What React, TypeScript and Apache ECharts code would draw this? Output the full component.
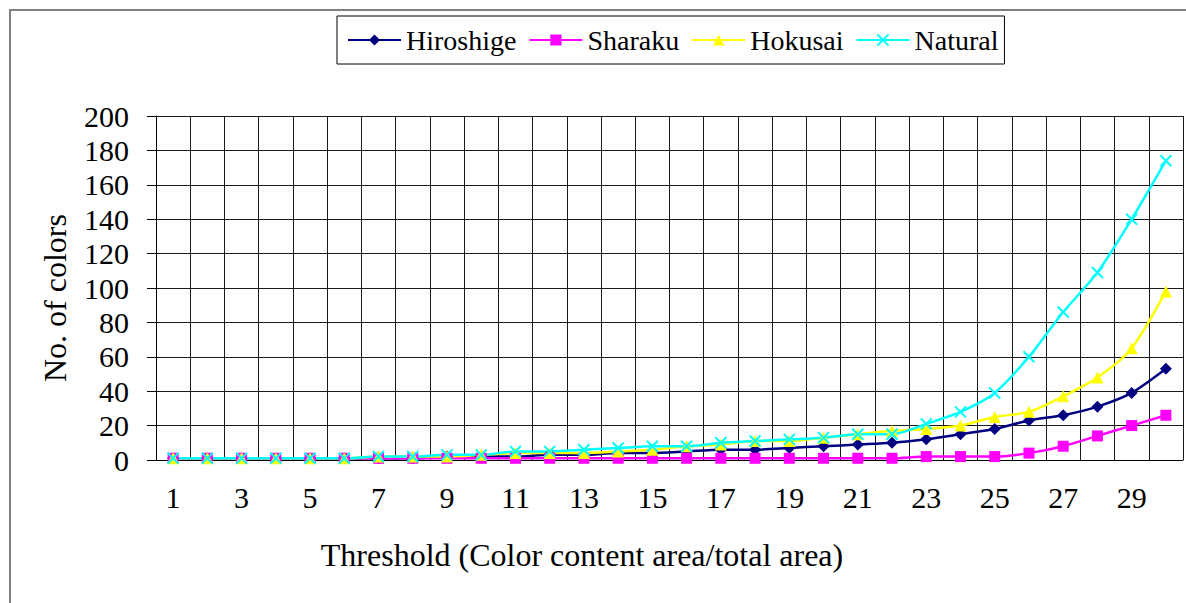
import React, { useEffect, useRef } from "react";
import * as echarts from "echarts";

const categories = Array.from({ length: 30 }, (_, i) => String(i + 1));
const hiroshige = [1, 1, 1, 1, 1, 1, 1, 1, 2, 2, 2, 3, 3, 4, 4, 5, 6, 6, 7, 8, 9, 10, 12, 15, 18, 23, 26, 31, 39, 53];
const sharaku = [1, 1, 1, 1, 1, 1, 1, 1, 1, 1, 1, 1, 1, 1, 1, 1, 1, 1, 1, 1, 1, 1, 2, 2, 2, 4, 8, 14, 20, 26];
const hokusai = [1, 1, 1, 1, 1, 1, 2, 2, 2, 3, 4, 4, 4, 5, 6, 8, 9, 11, 11, 13, 15, 17, 18, 20, 25, 28, 37, 48, 65, 98];
const natural = [1, 1, 1, 1, 1, 1, 2, 2, 3, 3, 5, 5, 6, 7, 8, 8, 10, 11, 12, 13, 15, 15, 21, 28, 39, 60, 86, 109, 140, 174];
const seriesNames = ["Hiroshige", "Sharaku", "Hokusai", "Natural"];
const yTitle = "No. of colors";
const xTitle = "Threshold (Color content area/total area)";

const FONT = "Liberation Serif";
const CROSS = "path://M0,0L10,10M10,0L0,10";

export default function App() {
  const ref = useRef<HTMLDivElement>(null);
  useEffect(() => {
    document.body.style.margin = "0";
    const chart = echarts.init(ref.current!, null, { renderer: "svg" });
    const mk = (name: string, data: number[], color: string, symbol: string, size: number, extra: any = {}) => ({
      name,
      type: "line",
      data,
      smooth: 0.25,
      symbol,
      symbolSize: size,
      showSymbol: true,
      lineStyle: { color, width: 2.5 },
      itemStyle: { color, ...extra },
      emphasis: { disabled: true },
    });
    chart.setOption({
      animation: false,
      backgroundColor: "#ffffff",
      textStyle: { fontFamily: FONT },
      grid: { left: 156, top: 116, right: 3, bottom: 143, containLabel: false },
      legend: {
        data: seriesNames,
        left: 337,
        top: 16,
        orient: "horizontal",
        padding: [10, 6, 10, 10],
        borderColor: "#000",
        borderWidth: 1,
        itemWidth: 53,
        itemHeight: 14,
        itemGap: 12,
        textStyle: { fontFamily: FONT, fontSize: 28, color: "#000" },
      },
      xAxis: {
        type: "category",
        data: categories,
        boundaryGap: true,
        axisLine: { show: true, lineStyle: { color: "#000", width: 1 } },
        axisTick: { show: false },
        axisLabel: { interval: 1, margin: 22, fontFamily: FONT, fontSize: 30, color: "#000" },
        splitLine: { show: true, interval: 0, lineStyle: { color: "#1a1a1a", width: 1 } },
      },
      yAxis: {
        type: "value",
        min: 0,
        max: 200,
        interval: 20,
        axisLine: { show: true, lineStyle: { color: "#000", width: 1 } },
        axisTick: { show: true, length: 9, lineStyle: { color: "#000" } },
        axisLabel: { margin: 27, fontFamily: FONT, fontSize: 30, color: "#000" },
        splitLine: { show: true, lineStyle: { color: "#1a1a1a", width: 1 } },
      },
      graphic: [
        {
          type: "rect",
          shape: { x: 10, y: 10, width: 1300, height: 800 },
          style: { fill: "none", stroke: "#808080", lineWidth: 2 },
          silent: true,
          z: -1,
        },
        {
          type: "text",
          x: 55,
          y: 298,
          rotation: Math.PI / 2,
          style: { text: yTitle, fontFamily: FONT, fontSize: 32, fill: "#000", align: "center", verticalAlign: "middle" },
        },
        {
          type: "text",
          x: 582,
          y: 555,
          style: { text: xTitle, fontFamily: FONT, fontSize: 32, fill: "#000", align: "center", verticalAlign: "middle" },
        },
      ],
      series: [
        mk(seriesNames[0], hiroshige, "#000080", "diamond", 12),
        mk(seriesNames[1], sharaku, "#FF00FF", "rect", 11),
        mk(seriesNames[2], hokusai, "#FFFF00", "triangle", 12),
        mk(seriesNames[3], natural, "#00FFFF", CROSS, 11, { borderColor: "#00FFFF", borderWidth: 2 }),
      ],
    });
    return () => chart.dispose();
  }, []);
  return <div ref={ref} style={{ width: 1186, height: 603 }} />;
}
